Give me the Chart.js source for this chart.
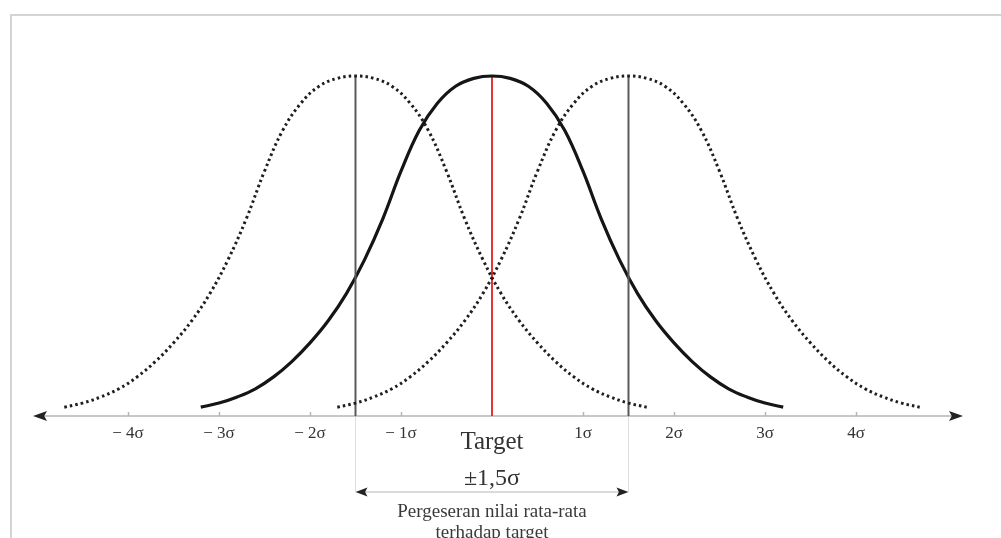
<!DOCTYPE html>
<html lang="id">
  <head>
    <meta charset="UTF-8" />
    <title>Pergeseran 1,5 sigma</title>
    <script src="https://cdn.jsdelivr.net/npm/chart.js"></script>
    <style>
      body {
        margin: 0;
        background: #fff;
      }
      .wrap {
        position: relative;
        width: 1001px;
        height: 538px;
      }
    </style>
  </head>
  <body>
    <div class="wrap">
      <canvas id="chart"></canvas>
    </div>

    <script>
      // curve positions in sigma units, heights in % of the peak
      const solidX = [-3.2, -3.0, -2.8, -2.6, -2.4, -2.2, -2.0, -1.8, -1.6, -1.4, -1.2, -1.0, -0.8, -0.6, -0.4, -0.2, 0,
        0.2, 0.4, 0.6, 0.8, 1.0, 1.2, 1.4, 1.6, 1.8, 2.0, 2.2, 2.4, 2.6, 2.8, 3.0, 3.2];
      const solidY = [2.6, 3.8, 5.6, 8, 11.5, 16, 21.5, 28, 36, 46, 58, 72, 84, 92, 97, 99.3, 100,
        99.3, 97, 92, 84, 72, 58, 46, 36, 28, 21.5, 16, 11.5, 8, 5.6, 3.8, 2.6];

      const leftX = [-4.7, -4.5, -4.3, -4.1, -3.9, -3.7, -3.5, -3.3, -3.1, -2.9, -2.7, -2.5, -2.3, -2.1, -1.9, -1.7, -1.5,
        -1.3, -1.1, -0.9, -0.7, -0.5, -0.3, -0.1, 0.1, 0.3, 0.5, 0.7, 0.9, 1.1, 1.3, 1.5, 1.7];
      const rightX = [-1.7, -1.5, -1.3, -1.1, -0.9, -0.7, -0.5, -0.3, -0.1, 0.1, 0.3, 0.5, 0.7, 0.9, 1.1, 1.3, 1.5,
        1.7, 1.9, 2.1, 2.3, 2.5, 2.7, 2.9, 3.1, 3.3, 3.5, 3.7, 3.9, 4.1, 4.3, 4.5, 4.7];
      const dottedY = [2.6, 3.8, 5.6, 8, 11.5, 16, 21.5, 28, 36, 46, 58, 72, 84, 92, 97, 99.3, 100,
        99.3, 97, 92, 84, 72, 58, 46, 36, 28, 21.5, 16, 11.5, 8, 5.6, 3.8, 2.6];

      const shiftMarks = [-1.5, 1.5];
      const targetMark = 0;

      const tickValues = [-4, -3, -2, -1, 1, 2, 3, 4];
      const tickLabels = ["\u2212 4\u03c3", "\u2212 3\u03c3", "\u2212 2\u03c3", "\u2212 1\u03c3", "1\u03c3", "2\u03c3", "3\u03c3", "4\u03c3"];

      const pts = (xs, ys) => xs.map((x, i) => ({ x: x, y: ys[i] }));
      const vline = (x) => [{ x: x, y: 0 }, { x: x, y: 100 }];

      function arrowHead(c, tipX, y, dir, len, half) {
        c.beginPath();
        c.moveTo(tipX, y);
        c.lineTo(tipX + dir * len, y - half);
        c.lineTo(tipX + dir * len * 0.8, y);
        c.lineTo(tipX + dir * len, y + half);
        c.closePath();
        c.fill();
      }

      const decor = {
        id: "decor",
        beforeDatasetsDraw(chart) {
          const c = chart.ctx;
          const xs = chart.scales.x;
          const ys = chart.scales.y;
          const base = ys.getPixelForValue(0);
          c.save();
          // frame
          c.strokeStyle = "#d4d4d4";
          c.lineWidth = 2;
          c.beginPath();
          c.moveTo(1001, 15);
          c.lineTo(11, 15);
          c.lineTo(11, 538);
          c.stroke();

          // faint guides under the axis
          c.strokeStyle = "#dddddd";
          c.lineWidth = 1;
          shiftMarks.forEach((m) => {
            const px = Math.round(xs.getPixelForValue(m)) + 0.5;
            c.beginPath();
            c.moveTo(px, base);
            c.lineTo(px, base + 76);
            c.stroke();
          });

          // axis
          c.strokeStyle = "#b5b5b5";
          c.lineWidth = 1.5;
          c.beginPath();
          c.moveTo(chart.chartArea.left + 6, base);
          c.lineTo(chart.chartArea.right - 6, base);
          c.stroke();
          tickValues.forEach((v) => {
            const px = Math.round(xs.getPixelForValue(v)) + 0.5;
            c.beginPath();
            c.moveTo(px, base);
            c.lineTo(px, base - 4);
            c.stroke();
          });
          c.fillStyle = "#222";
          arrowHead(c, chart.chartArea.left, base, 1, 14, 5);
          arrowHead(c, chart.chartArea.right, base, -1, 14, 5);

          // tick labels
          c.fillStyle = "#333";
          c.font = "17px 'Liberation Serif'";
          c.textAlign = "center";
          c.textBaseline = "middle";
          tickValues.forEach((v, i) => {
            c.fillText(tickLabels[i], xs.getPixelForValue(v), base + 18);
          });
          const cx = xs.getPixelForValue(targetMark);
          c.font = "25px 'Liberation Serif'";
          c.fillText("Target", cx, base + 26);

          // shift annotation
          c.font = "24px 'Liberation Serif'";
          c.fillText("\u00b11,5\u03c3", cx, base + 63);
          const ay = base + 76;
          const ax1 = xs.getPixelForValue(shiftMarks[0]);
          const ax2 = xs.getPixelForValue(shiftMarks[1]);
          c.strokeStyle = "#b5b5b5";
          c.lineWidth = 1.2;
          c.beginPath();
          c.moveTo(ax1 + 6, ay);
          c.lineTo(ax2 - 6, ay);
          c.stroke();
          c.fillStyle = "#222";
          arrowHead(c, ax1, ay, 1, 12, 4.5);
          arrowHead(c, ax2, ay, -1, 12, 4.5);
          c.fillStyle = "#3a3a3a";
          c.font = "19px 'Liberation Serif'";
          c.fillText("Pergeseran nilai rata-rata", cx, base + 96);
          c.fillText("terhadap target", cx, base + 117);
          c.restore();
        },
      };

      const dotted = {
        showLine: true,
        borderColor: "#1e1e1e",
        borderWidth: 3,
        borderDash: [2.5, 3.1],
        borderCapStyle: "butt",
        pointRadius: 0,
        tension: 0.4,
        clip: false,
      };

      new Chart(document.getElementById("chart"), {
        type: "scatter",
        data: {
          datasets: [
            Object.assign({ label: "Pergeseran kiri", data: pts(leftX, dottedY) }, dotted),
            Object.assign({ label: "Pergeseran kanan", data: pts(rightX, dottedY) }, dotted),
            {
              label: "-1,5 sigma",
              data: vline(shiftMarks[0]),
              showLine: true,
              borderColor: "#5a5a5a",
              borderWidth: 2,
              pointRadius: 0,
              clip: false,
            },
            {
              label: "+1,5 sigma",
              data: vline(shiftMarks[1]),
              showLine: true,
              borderColor: "#5a5a5a",
              borderWidth: 2,
              pointRadius: 0,
              clip: false,
            },
            {
              label: "Distribusi",
              data: pts(solidX, solidY),
              showLine: true,
              borderColor: "#151515",
              borderWidth: 3.2,
              pointRadius: 0,
              tension: 0.4,
              clip: false,
            },
            {
              label: "Target",
              data: vline(targetMark),
              showLine: true,
              borderColor: "#e41e1e",
              borderWidth: 1.8,
              pointRadius: 0,
              clip: false,
            },
          ],
        },
        options: {
          responsive: true,
          maintainAspectRatio: false,
          animation: false,
          layout: {
            padding: { left: 33, right: 38, top: 76, bottom: 122 },
          },
          plugins: {
            legend: { display: false },
            tooltip: { enabled: false },
          },
          scales: {
            x: { type: "linear", display: false, min: -5.044, max: 5.176 },
            y: { display: false, min: 0, max: 100 },
          },
        },
        plugins: [decor],
      });
    </script>
  </body>
</html>
